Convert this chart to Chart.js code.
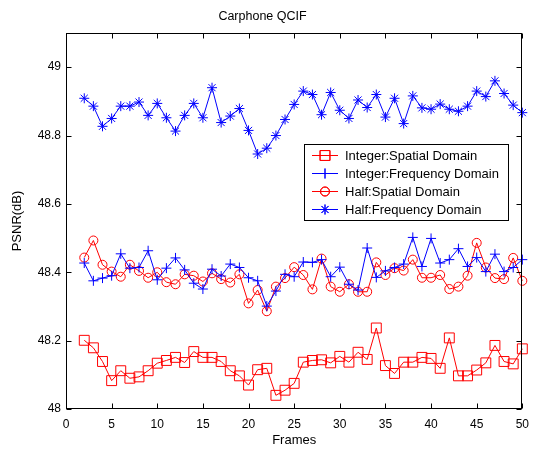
<!DOCTYPE html>
<html>
<head>
<meta charset="utf-8">
<script src="https://cdn.jsdelivr.net/npm/chart.js@4"></script>
<style>
body{margin:0;background:#fff}
</style>
</head>
<body>
<canvas id="psnrChart" width="537" height="451"></canvas>
<script>

const frames = [2,3,4,5,6,7,8,9,10,11,12,13,14,15,16,17,18,19,20,21,22,23,24,25,26,27,28,29,30,31,32,33,34,35,36,37,38,39,40,41,42,43,44,45,46,47,48,49,50]

const intSpatial = [48.201,48.179,48.139,48.083,48.112,48.090,48.094,48.112,48.134,48.142,48.151,48.136,48.168,48.151,48.151,48.139,48.112,48.097,48.070,48.115,48.119,48.040,48.055,48.075,
48.137,48.142,48.144,48.135,48.154,48.137,48.166,48.145,48.237,48.127,48.104,48.137,48.137,48.151,48.148,48.119,48.208,48.097,48.097,48.114,48.135,48.186,48.139,48.132,48.176]

const intFreq = [48.427,48.375,48.383,48.390,48.454,48.412,48.414,48.463,48.378,48.412,48.442,48.407,48.368,48.351,48.409,48.389,48.424,48.414,48.384,48.375,48.301,48.345,48.394,48.387,
48.430,48.429,48.437,48.387,48.415,48.365,48.348,48.471,48.385,48.404,48.414,48.424,48.502,48.417,48.499,48.427,48.437,48.469,48.417,48.443,48.402,48.453,48.402,48.414,48.437]

const halfSpatial = [48.443,48.493,48.422,48.402,48.387,48.422,48.404,48.384,48.400,48.371,48.365,48.394,48.390,48.373,48.397,48.380,48.370,48.394,48.309,48.348,48.286,48.358,48.383,48.415,
48.392,48.350,48.440,48.358,48.343,48.365,48.343,48.343,48.429,48.392,48.412,48.405,48.437,48.384,48.384,48.392,48.351,48.358,48.390,48.486,48.414,48.383,48.380,48.442,48.375]

const halfFreq = [48.909,48.886,48.827,48.850,48.886,48.886,48.898,48.859,48.894,48.852,48.813,48.859,48.894,48.852,48.940,48.838,48.857,48.879,48.815,48.746,48.763,48.800,48.847,48.891,
48.930,48.920,48.861,48.926,48.874,48.850,48.904,48.882,48.920,48.854,48.909,48.835,48.916,48.881,48.877,48.892,48.877,48.871,48.886,48.930,48.914,48.960,48.923,48.889,48.867]

const xTicks = [0,5,10,15,20,25,30,35,40,45,50]
const yTicks = [48,48.2,48.4,48.6,48.8,49]

const seriesNames = ['Integer:Spatial Domain','Integer:Frequency Domain','Half:Spatial Domain','Half:Frequency Domain']

function toPoints(values){
return frames.map((f,i)=>({x:f,y:values[i]}))
}

function makeSet(label,values,color,style,radius){
return {
label:label,
data:toPoints(values),
borderColor:color,
borderWidth:1,
pointStyle:style,
pointRadius:radius,
pointHoverRadius:radius,
pointBorderColor:color,
pointBackgroundColor:'rgba(0,0,0,0)',
pointBorderWidth:1,
backgroundColor:'rgba(0,0,0,0)',
tension:0,
clip:false
}
}

const datasets = [
makeSet(seriesNames[0],intSpatial,'#ff0000','rect',7),
makeSet(seriesNames[1],intFreq,'#0000ff','cross',5),
makeSet(seriesNames[2],halfSpatial,'#ff0000','circle',4.5),
makeSet(seriesNames[3],halfFreq,'#0000ff','star',5)
]

// ticks pointing inward + box like matlab
const boxPlugin = {
id:'boxPlugin',
afterDraw(chart){
const ctx = chart.ctx
const a = chart.chartArea
const xs = chart.scales.x
const ys = chart.scales.y
const L = Math.round(a.left)+0.5
const R = Math.round(a.right)-0.5
const T = Math.round(a.top)+0.5
const B = Math.round(a.bottom)-0.5
ctx.save()
ctx.strokeStyle = '#000'
ctx.lineWidth = 1
ctx.beginPath()
xTicks.forEach(v=>{
let px = Math.round(xs.getPixelForValue(v))+0.5
ctx.moveTo(px,B); ctx.lineTo(px,B-5)
ctx.moveTo(px,T); ctx.lineTo(px,T+5)
})
yTicks.forEach(v=>{
let py = Math.round(ys.getPixelForValue(v))+0.5
ctx.moveTo(L,py); ctx.lineTo(L+5,py)
ctx.moveTo(R,py); ctx.lineTo(R-5,py)
})
ctx.stroke()
ctx.strokeRect(L,T,R-L,B-T)
ctx.restore()
}
}

const legendPlugin = {
id:'legendBox',
afterDraw(chart){
const ctx = chart.ctx
const x0 = 304.5, y0 = 144.5, w = 204, h = 76
ctx.save()
ctx.fillStyle = '#fff'
ctx.fillRect(x0,y0,w,h)
ctx.strokeStyle = '#000'
ctx.lineWidth = 1
ctx.strokeRect(x0,y0,w,h)
ctx.font = '13px "Liberation Sans", Arial, sans-serif'
ctx.textBaseline = 'middle'
ctx.textAlign = 'left'
const rows = [155.5,173.5,191.5,209.5]
datasets.forEach((d,i)=>{
let y = rows[i]
ctx.strokeStyle = d.borderColor
ctx.beginPath()
ctx.moveTo(312,y); ctx.lineTo(338,y)
ctx.stroke()
ctx.fillStyle = 'rgba(0,0,0,0)'
Chart.helpers.drawPoint(ctx,{pointStyle:d.pointStyle,radius:d.pointRadius,borderWidth:1,rotation:0},325,y)
ctx.stroke()
ctx.fillStyle = '#000'
ctx.fillText(d.label,345,y+0.5)
})
ctx.restore()
}
}

new Chart(document.getElementById('psnrChart'),{
type:'line',
data:{datasets:datasets},
plugins:[boxPlugin,legendPlugin],
options:{
responsive:false,
animation:false,
events:[],
layout:{padding:{left:0,right:12,top:0,bottom:0}},
plugins:{
legend:{display:false},
tooltip:{enabled:false},
title:{
display:true,
text:'Carphone QCIF',
color:'#000',
font:{family:'"Liberation Sans", Arial, sans-serif',size:12.5,weight:'normal'},
padding:{top:9,bottom:9}
}
},
scales:{
x:{
type:'linear',
min:0,
max:50,
grid:{display:false,drawTicks:false},
border:{display:false},
afterBuildTicks:s=>{s.ticks = xTicks.map(v=>({value:v}))},
afterFit:s=>{s.height = 42},
ticks:{
color:'#000',
padding:8,
maxRotation:0,
font:{family:'"Liberation Sans", Arial, sans-serif',size:12},
callback:v=>String(v)
},
title:{
display:true,
text:'Frames',
color:'#000',
font:{family:'"Liberation Sans", Arial, sans-serif',size:13},
padding:{top:0,bottom:3}
}
},
y:{
type:'linear',
min:48,
max:49.1,
grid:{display:false,drawTicks:false},
border:{display:false},
afterBuildTicks:s=>{s.ticks = yTicks.map(v=>({value:v}))},
afterFit:s=>{s.width = 66},
ticks:{
color:'#000',
padding:5,
font:{family:'"Liberation Sans", Arial, sans-serif',size:12},
callback:v=>String(Math.round(v*10)/10)
},
title:{
display:true,
text:'PSNR(dB)',
color:'#000',
font:{family:'"Liberation Sans", Arial, sans-serif',size:13},
padding:{top:10,bottom:0}
}
}
}
}
})

</script>
</body>
</html>
